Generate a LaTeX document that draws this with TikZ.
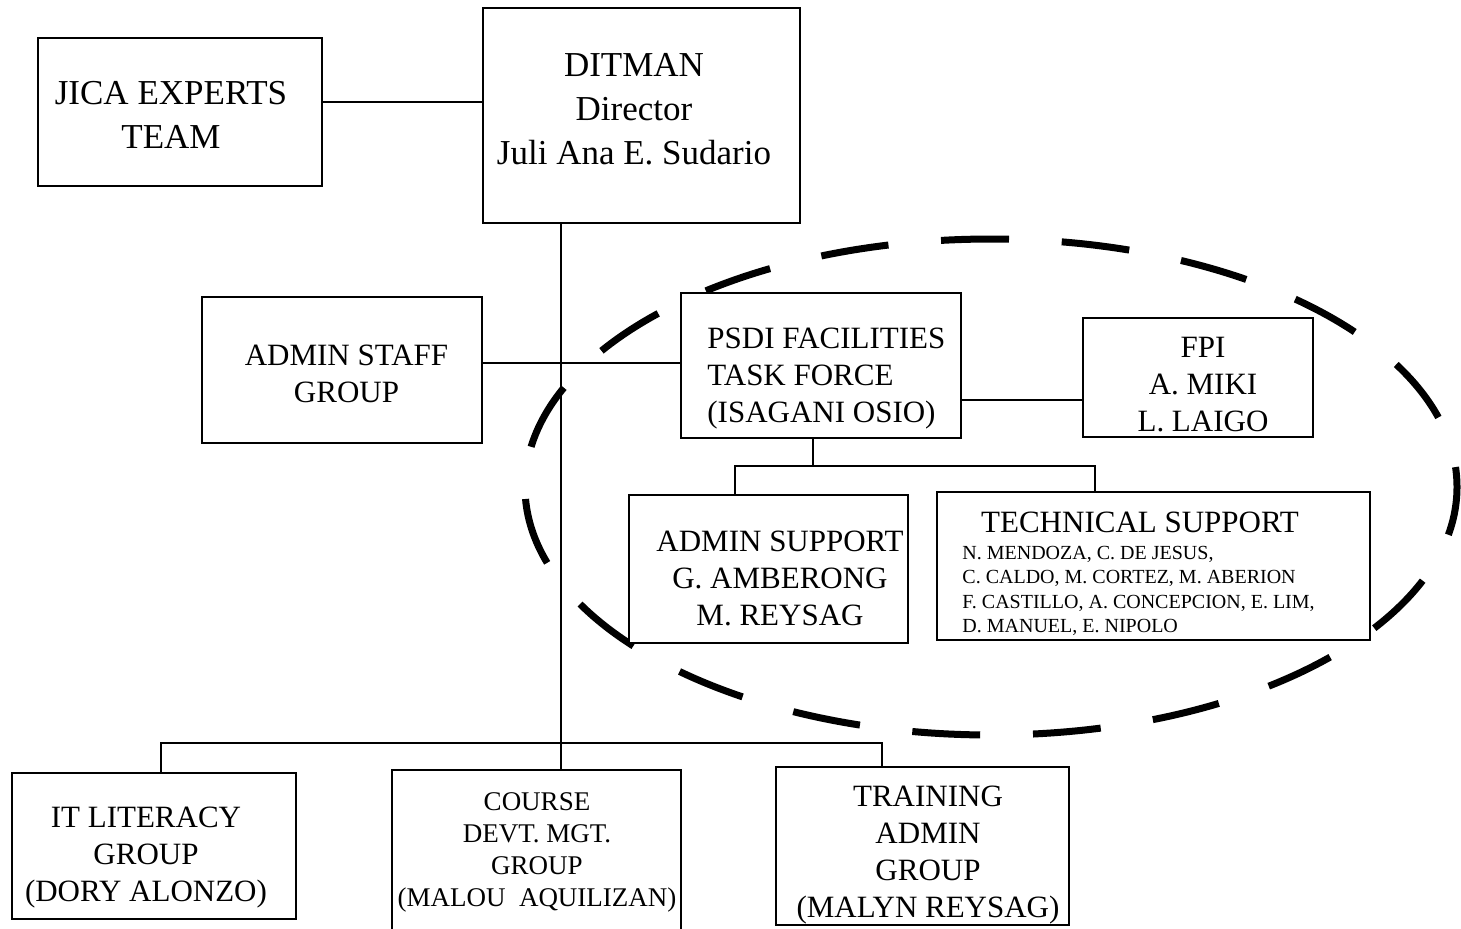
\documentclass[tikz,border=0pt]{standalone}
\usepackage{fontspec}
\setmainfont{Liberation Serif}
\usepackage{tikz}

\begin{document}
\begin{tikzpicture}[x=0.5pt,y=-0.5pt,
  box/.style={draw,line width=0.8pt,fill=white,inner sep=0pt},
  txt/.style={inner sep=0pt,align=center,font=\fontsize{15.5}{18.5}\selectfont},
  bigtxt/.style={txt,font=\fontsize{17.5}{22}\selectfont},
  link/.style={line width=0.6pt},
  taskring/.style={line width=3.5pt,dash pattern=on 34pt off 26.4pt,dash phase=24pt}]
  \useasboundingbox (0,0) rectangle (1461,928);
  % task force ring, under the boxes
  \draw[taskring] (991,487) ellipse [x radius=233pt, y radius=124pt];
  % top level
  \node[box,minimum width=142pt,minimum height=74pt] (jica) at (180,112) {};
  \node[bigtxt] (jicatext) at (171,115) {JICA EXPERTS\\TEAM};
  \node[box,minimum width=158.5pt,minimum height=107.5pt] (ditman) at (641.5,115.5) {};
  \node[bigtxt] (ditmantext) at (634,109) {DITMAN\\Director\\Juli Ana E. Sudario};
  \draw[link] ([yshift=5pt]jica.east) -- ([yshift=5pt]jica.east -| ditman.west);
  % task force
  \node[box,minimum width=140pt,minimum height=73pt] (adminstaff) at (342,370) {};
  \node[txt] (adminstafftext) at (346.5,373.5) {ADMIN STAFF\\GROUP};
  \node[box,minimum width=140pt,minimum height=72.5pt] (psdi) at (821,365.5) {};
  \node[txt,align=left,anchor=west] (psditext) at (707,378.5) {PSDI FACILITIES\\TASK FORCE\\(ISAGANI OSIO)};
  \node[box,minimum width=115pt,minimum height=59.5pt] (fpi) at (1198,377.5) {};
  \node[txt] (fpitext) at (1203,385) {FPI\\A. MIKI\\L. LAIGO};
  \node[box,minimum width=139.5pt,minimum height=74pt] (adminsup) at (768.5,569) {};
  \node[txt] (adminsuptext) at (780,578) {ADMIN SUPPORT\\G. AMBERONG\\M. REYSAG};
  \node[box,minimum width=216.5pt,minimum height=74pt] (tech) at (1153.5,566) {};
  \node[txt] (techhead) at (1140,522) {TECHNICAL SUPPORT};
  \node[txt,font=\fontsize{10}{12.3}\selectfont,align=left,anchor=west] (technames) at (962,591)
    {N. MENDOZA, C. DE JESUS,\\C. CALDO, M. CORTEZ, M. ABERION\\F. CASTILLO, A. CONCEPCION, E. LIM,\\D. MANUEL, E. NIPOLO};
  \draw[link] ([yshift=3.5pt]adminstaff.east) -- ([yshift=3.5pt]adminstaff.east -| psdi.west);
  \draw[link] ([yshift=-17.25pt]psdi.east) -- ([yshift=-17.25pt]psdi.east -| fpi.west);
  \coordinate (tfbus) at (813,466);
  \draw[link] ([xshift=-4pt]psdi.south) -- (tfbus);
  \draw[link] ([xshift=-16.75pt]adminsup.north) |- (tfbus) -| ([xshift=-29.25pt]tech.north);
  % groups
  \node[box,minimum width=142pt,minimum height=73pt] (itlit) at (154,846) {};
  \node[txt] (itlittext) at (146,857.5) {IT LITERACY\\GROUP\\(DORY ALONZO)};
  \node[box,minimum width=144.5pt,minimum height=82pt] (course) at (536.5,852) {};
  \node[txt,font=\fontsize{13.5}{16}\selectfont] (coursetext) at (537,852)
    {COURSE\\DEVT. MGT.\\GROUP\\(MALOU~ AQUILIZAN)};
  \node[box,minimum width=146.5pt,minimum height=79pt] (training) at (922.5,846) {};
  \node[txt] (trainingtext) at (928,855.5) {TRAINING\\ADMIN\\GROUP\\(MALYN REYSAG)};
  \coordinate (trunk) at (561,743);
  \draw[link] ([xshift=-40.25pt]ditman.south) -- (trunk);
  \draw[link] ([xshift=3.5pt]itlit.north) |- (trunk) -| ([xshift=-20.25pt]training.north);
  \draw[link] (trunk) -- (course.north -| trunk);
\end{tikzpicture}
\end{document}
